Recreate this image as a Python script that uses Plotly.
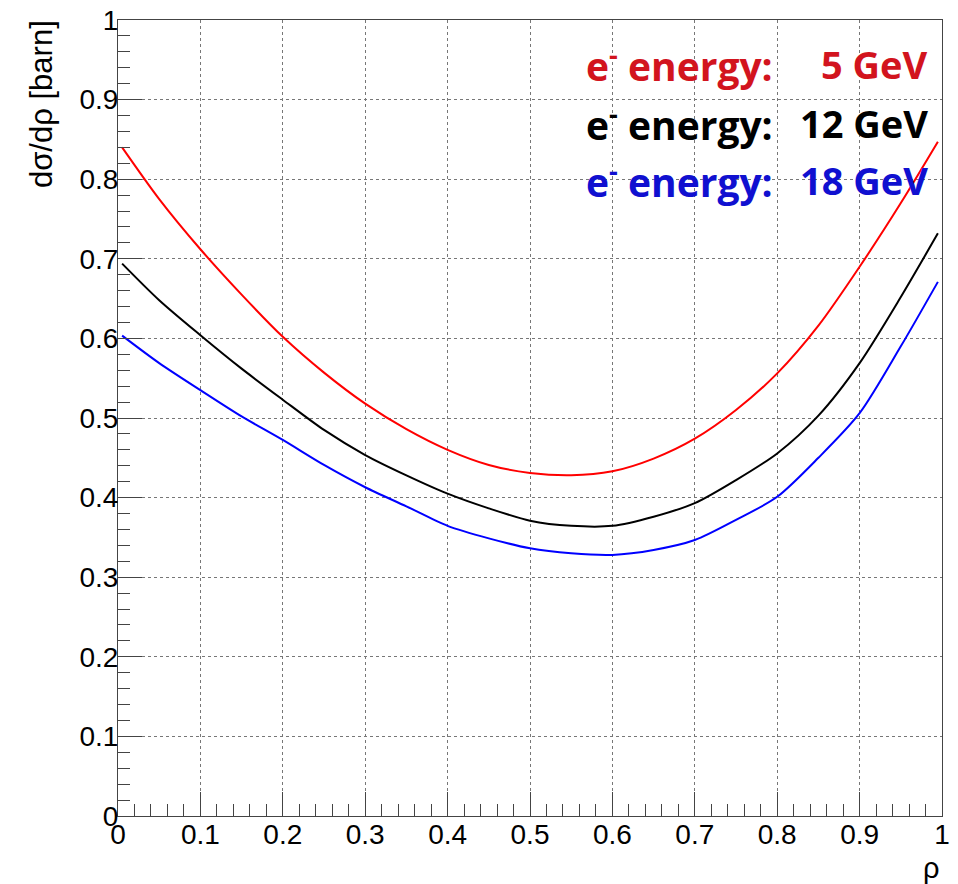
import plotly.graph_objects as go

# ---- data ----
rho = [0.005, 0.05, 0.1, 0.15, 0.2, 0.25, 0.3, 0.35, 0.4, 0.45, 0.5,
       0.55, 0.6, 0.65, 0.7, 0.75, 0.8, 0.85, 0.9, 0.95, 0.995]
xs_5gev = [0.840, 0.775, 0.712, 0.655, 0.602, 0.557, 0.518, 0.486, 0.460, 0.441, 0.431,
           0.428, 0.433, 0.449, 0.474, 0.510, 0.556, 0.616, 0.690, 0.770, 0.847]
xs_12gev = [0.694, 0.648, 0.604, 0.562, 0.523, 0.485, 0.4535, 0.428, 0.405, 0.3865, 0.371,
            0.3645, 0.3645, 0.376, 0.393, 0.422, 0.4555, 0.503, 0.569, 0.652, 0.732]
xs_18gev = [0.6035, 0.569, 0.535, 0.502, 0.4724, 0.441, 0.413, 0.389, 0.3645, 0.3488, 0.3363,
            0.330, 0.328, 0.3342, 0.3467, 0.372, 0.401, 0.450, 0.506, 0.590, 0.671]

series_names = ["5 GeV", "12 GeV", "18 GeV"]
line_colors = ["#ff0000", "#000000", "#0000ff"]
text_colors = ["#d2141e", "#000000", "#1010d0"]

x_title = "ρ"
y_title = "dσ/dρ [barn]"

W, H = 958, 884
OFF = 8  # default page body margin
# plot frame in screen pixels: x 118..942, y 20..816
L, T = 118 - OFF, 20 - OFF
R, B = W - (942 - OFF), H - (816 - OFF)
pw, ph = W - L - R, H - T - B


def px_x(p):
    return (p - OFF - L) / pw


def px_y(p):
    return (H - B - (p - OFF)) / ph


fig = go.Figure()
for ys, c, n in zip([xs_5gev, xs_12gev, xs_18gev], line_colors, series_names):
    fig.add_trace(go.Scatter(x=rho, y=ys, mode="lines", name=n,
                             line=dict(color=c, width=2, shape="spline", smoothing=0.8),
                             showlegend=False))

axis_common = dict(
    showline=True, mirror=True, linecolor="#444444", linewidth=1,
    ticks="inside", ticklen=24, tickwidth=1, tickcolor="#444444",
    showgrid=True, gridcolor="#777777", gridwidth=1, griddash="dot",
    zeroline=False, dtick=0.1, tick0=0, automargin=False,
    ticklabelstandoff=-7, ticklabeloverflow="allow",
    minor=dict(ticks="inside", ticklen=12, dtick=0.02, tickcolor="#444444", showgrid=False),
    tickfont=dict(family="Liberation Sans", size=28, color="#000000"),
)

fig.update_xaxes(range=[0, 1], **axis_common)
fig.update_yaxes(range=[0, 1], **axis_common)

annotations = []
# axis titles
annotations.append(dict(text=y_title, textangle=-90, xref="paper", yref="paper",
                        x=px_x(41), y=px_y(18), xanchor="center", yanchor="top", showarrow=False,
                        font=dict(family="Liberation Sans", size=31, color="#000000")))
annotations.append(dict(text=x_title, xref="paper", yref="paper",
                        x=px_x(942), y=px_y(886), xanchor="right", yanchor="bottom", showarrow=False,
                        font=dict(family="Liberation Sans", size=29, color="#000000")))
# legend-like text lines
row_centers = [64, 123, 180]
for n, c, yc in zip(series_names, text_colors, row_centers):
    annotations.append(dict(text="e<sup>-</sup> energy:", xref="paper", yref="paper",
                            x=px_x(584), y=px_y(yc), xanchor="left", yanchor="middle",
                            showarrow=False,
                            font=dict(family="Open Sans", size=39, color=c, weight="bold")))
    annotations.append(dict(text=n, xref="paper", yref="paper",
                            x=px_x(930), y=px_y(yc), xanchor="right", yanchor="middle",
                            showarrow=False,
                            font=dict(family="Open Sans", size=38, color=c, weight="bold")))

fig.update_layout(
    width=W, height=H,
    margin=dict(l=L, r=R, t=T, b=B),
    paper_bgcolor="white", plot_bgcolor="white",
    annotations=annotations,
)

fig.write_html("out.html")
